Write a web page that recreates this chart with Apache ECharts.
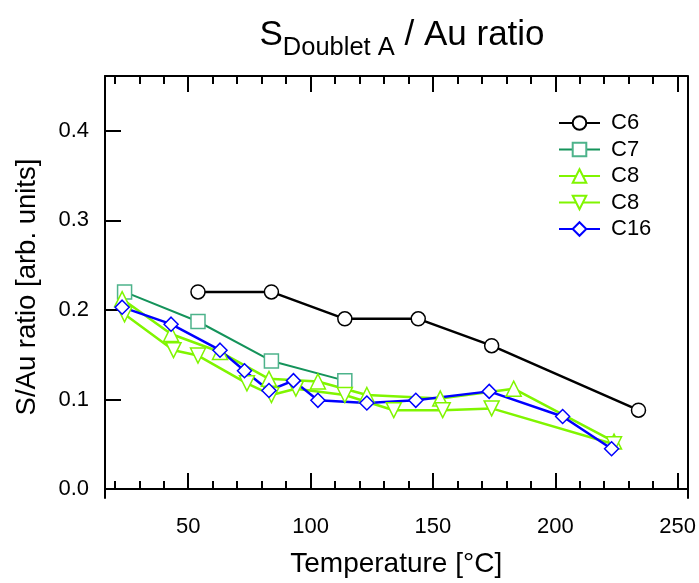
<!DOCTYPE html>
<html>
<head>
<meta charset="utf-8">
<script src="https://cdn.jsdelivr.net/npm/echarts@6/dist/echarts.min.js"></script>
<style>
html,body{margin:0;padding:0;background:#fff;}
#chart{width:699px;height:583px;}
</style>
</head>
<body>
<div id="chart"></div>
<script>
// ---- data ----
const c6X = [54, 84, 114, 144, 174, 234];
const c6Y = [0.22, 0.22, 0.19, 0.19, 0.16, 0.088];
const c7X = [24, 54, 84, 114];
const c7Y = [0.22, 0.187, 0.143, 0.121];
const c8aX = [23, 43, 63, 83, 103, 123, 153, 183, 224];
const c8aY = [0.212, 0.173, 0.153, 0.123, 0.12, 0.105, 0.101, 0.112, 0.053];
const c8bX = [24, 44, 54, 74, 84, 94, 114, 134, 154, 174, 224];
const c8bY = [0.195, 0.155, 0.149, 0.118, 0.105, 0.112, 0.105, 0.088, 0.088, 0.09, 0.05];
const c16X = [23, 43, 63, 73, 83, 93, 103, 123, 143, 173, 203, 223];
const c16Y = [0.203, 0.184, 0.155, 0.132, 0.11, 0.121, 0.099, 0.096, 0.099, 0.109, 0.081, 0.045];
const seriesNames = ['C6', 'C7', 'C8', 'C8 ', 'C16'];
const xMajorTicks = [50, 100, 150, 200, 250];
const xMinorTicks = [20, 30, 40, 60, 70, 80, 90, 110, 120, 130, 140, 160, 170, 180, 190, 210, 220, 230, 240];
const yTicks = [0, 0.1, 0.2, 0.3, 0.4];

function pairs(xs, ys) { return xs.map((x, i) => [x, ys[i]]); }

const FONT = 'Liberation Sans, Arial, sans-serif';
const XMIN = 16, XMAX = 254, YMIN = -0.01, YMAX = 0.461;

function mkSeries(name, xs, ys, color, border, symbol, rotate, size, lw) {
  return {
    name: name, type: 'line', data: pairs(xs, ys),
    symbol: symbol, symbolSize: size, symbolRotate: rotate,
    showAllSymbol: true,
    lineStyle: { color: color, width: lw },
    itemStyle: { color: '#ffffff', borderColor: border, borderWidth: 1.5 },
    emphasis: { disabled: true },
    animation: false, z: 3
  };
}

const chart = echarts.init(document.getElementById('chart'), null, { renderer: 'canvas' });
const option = {
  animation: false,
  backgroundColor: '#ffffff',
  textStyle: { fontFamily: FONT },
  title: {
    text: '{s|S}{sub|Doublet A}{s| / Au ratio}',
    left: 397, top: 4, textAlign: 'center',
    textStyle: {
      fontWeight: 'normal',
      rich: {
        s: { fontSize: 35, fontWeight: 'normal', color: '#000', fontFamily: FONT },
        sub: { fontSize: 25.5, fontWeight: 'normal', padding: [26, 0, 0, 0], color: '#000', fontFamily: FONT }
      }
    }
  },
  legend: {
    orient: 'vertical', left: 558, top: 112,
    itemWidth: 41, itemHeight: 17, itemGap: 4.5, padding: 0,
    data: seriesNames,
    formatter: function (n) { return n.trim(); },
    textStyle: { fontSize: 22, color: '#000', fontFamily: FONT, padding: [0, 0, 0, 6] },
    selectedMode: false
  },
  grid: { left: 105, right: 9, top: 76, bottom: 81, containLabel: false },
  xAxis: [
    {
      type: 'value', position: 'bottom', min: XMIN, max: XMAX,
      name: 'Temperature [°C]', nameLocation: 'middle', nameGap: 52,
      nameTextStyle: { fontSize: 28, color: '#000', fontFamily: FONT },
      axisLine: { lineStyle: { color: '#000', width: 2 } },
      axisTick: { customValues: xMajorTicks, inside: true, length: 16, lineStyle: { color: '#000', width: 2 } },
      axisLabel: { customValues: xMajorTicks, fontSize: 22, color: '#000', margin: 18, fontFamily: FONT },
      splitLine: { show: false }
    },
    {
      type: 'value', position: 'bottom', min: XMIN, max: XMAX,
      axisLine: { show: false },
      axisTick: { customValues: xMinorTicks, inside: true, length: 8, lineStyle: { color: '#000', width: 2 } },
      axisLabel: { show: false }, splitLine: { show: false }
    },
    {
      type: 'value', position: 'top', min: XMIN, max: XMAX,
      axisLine: { lineStyle: { color: '#000', width: 2 } },
      axisTick: { customValues: xMajorTicks, inside: true, length: 16, lineStyle: { color: '#000', width: 2 } },
      axisLabel: { show: false }, splitLine: { show: false }
    },
    {
      type: 'value', position: 'top', min: XMIN, max: XMAX,
      axisLine: { show: false },
      axisTick: { customValues: xMinorTicks, inside: true, length: 8, lineStyle: { color: '#000', width: 2 } },
      axisLabel: { show: false }, splitLine: { show: false }
    }
  ],
  yAxis: [
    {
      type: 'value', position: 'left', min: YMIN, max: YMAX,
      name: 'S/Au ratio [arb. units]', nameLocation: 'middle', nameGap: 64,
      nameTextStyle: { fontSize: 27.5, color: '#000', fontFamily: FONT },
      axisLine: { show: true, lineStyle: { color: '#000', width: 2 } },
      axisTick: { customValues: yTicks, inside: true, length: 16, lineStyle: { color: '#000', width: 2 } },
      axisLabel: { customValues: yTicks, fontSize: 22, color: '#000', margin: 16, fontFamily: FONT,
                   formatter: function (v) { return v.toFixed(1); } },
      splitLine: { show: false }
    },
    {
      type: 'value', position: 'right', min: YMIN, max: YMAX,
      axisLine: { show: true, lineStyle: { color: '#000', width: 2 } },
      axisTick: { show: false }, axisLabel: { show: false }, splitLine: { show: false }
    }
  ],
  series: [
    mkSeries(seriesNames[0], c6X, c6Y, '#000000', '#000000', 'circle', 0, 14, 2.5),
    mkSeries(seriesNames[1], c7X, c7Y, '#14935a', '#4db38b', 'rect', 0, 14, 2),
    mkSeries(seriesNames[2], c8aX, c8aY, '#80f500', '#80f500', 'triangle', 0, 15, 2.5),
    mkSeries(seriesNames[3], c8bX, c8bY, '#80f500', '#80f500', 'triangle', 180, 15, 2.5),
    mkSeries(seriesNames[4], c16X, c16Y, '#0000ff', '#0000ff', 'diamond', 0, 14, 2.5)
  ]
};
chart.setOption(option);
</script>
</body>
</html>
